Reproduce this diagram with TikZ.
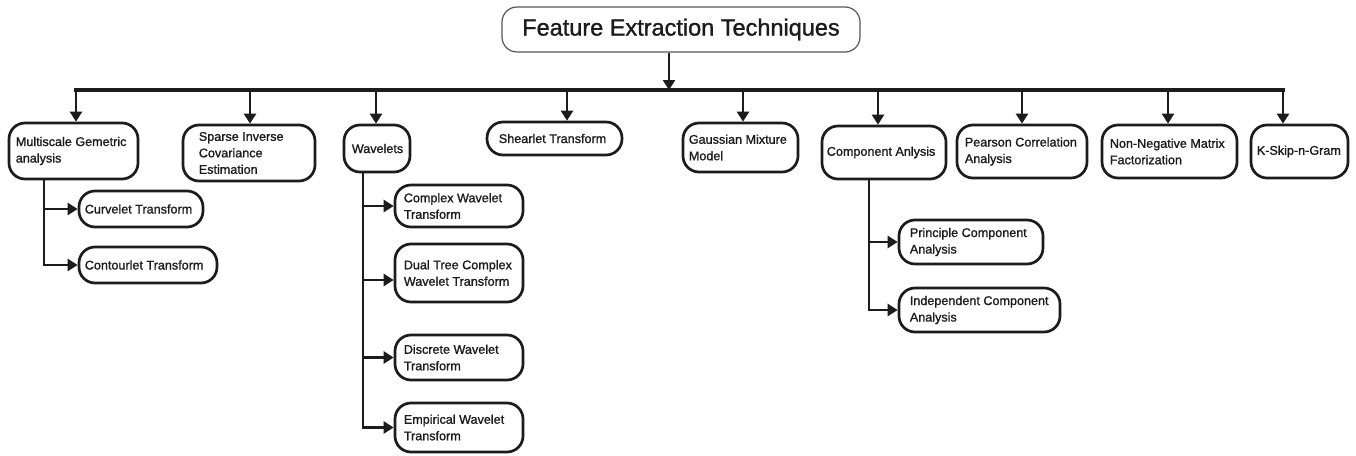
\documentclass[tikz,border=0pt]{standalone}
\usepackage{fontspec}
\setmainfont{Liberation Sans}
\newfontfamily\medfont[FakeBold=1.2]{Liberation Sans}
\usetikzlibrary{arrows.meta}
\definecolor{ink}{HTML}{1C1C1C}
\definecolor{frame}{HTML}{555555}
\newcommand\mkbox[7]{%
  \pgfmathsetmacro\bxw{#4-#2}\pgfmathsetmacro\bxh{#5-#3}%
  \pgfmathsetmacro\bxcx{(#2+#4)/2}\pgfmathsetmacro\bxcy{(#3+#5)/2}%
  \node[bx, minimum width=\bxw pt, minimum height=\bxh pt] (#1) at (\bxcx,\bxcy) {};
  \node[tx] (#1-t) at ([xshift=#6pt]#1.west) {#7};}
\begin{document}
\begin{tikzpicture}[x=1pt,y=-1pt,
  bx/.style={draw=ink, line width=2.7pt, rounded corners=16pt, inner sep=0pt, fill=white},
  tx/.style={font=\medfont\fontsize{12.6}{16.5}\selectfont, text=ink, align=left, inner sep=0pt, anchor=west},
  ttl/.style={draw=frame, line width=1.2pt, rounded corners=15pt, inner sep=0pt, text=ink,
    font=\medfont\fontsize{23.5}{28}\selectfont},
  con/.style={draw=ink, line width=2.8pt},
  arr/.style={con, -{Triangle[length=10pt,width=12pt]}},
]
\useasboundingbox (0,0) rectangle (1356,455);
\fill[white] (0,0) rectangle (1356,455);

\node[ttl, minimum width=358pt, minimum height=45pt] (T) at (681,29.5) {Feature Extraction Techniques};

% level 1
\mkbox{m1}{9}{123}{138}{179}{8}{Multiscale Gemetric\\analysis}
\mkbox{m2}{183}{125}{315}{181}{17}{Sparse Inverse\\Covariance\\Estimation}
\mkbox{m3}{344}{125}{410}{172}{9}{Wavelets}
\mkbox{m4}{487}{122}{622}{155}{13}{Shearlet Transform}
\mkbox{m5}{683}{123}{798}{172}{7}{Gaussian Mixture\\Model}
\mkbox{m6}{822}{126}{946}{179}{6}{Component Anlysis}
\mkbox{m7}{957}{125}{1087}{178}{9}{Pearson Correlation\\Analysis}
\mkbox{m8}{1102}{125}{1237}{178}{9}{Non-Negative Matrix\\Factorization}
\mkbox{m9}{1251}{125}{1348}{178}{7}{K-Skip-n-Gram}

% children
\mkbox{c1}{79}{191}{203}{227}{7}{Curvelet Transform}
\mkbox{c2}{79}{247}{217}{283}{7}{Contourlet Transform}
\mkbox{w1}{395}{185}{523}{227}{10}{Complex Wavelet\\Transform}
\mkbox{w2}{395}{244}{523}{302}{10}{Dual Tree Complex\\Wavelet Transform}
\mkbox{w3}{395}{335}{523}{380}{10}{Discrete Wavelet\\Transform}
\mkbox{w4}{395}{403}{523}{452}{10}{Empirical Wavelet\\Transform}
\mkbox{p1}{899}{220}{1043}{264}{12}{Principle Component\\Analysis}
\mkbox{p2}{899}{288}{1060}{332}{12}{Independent Component\\Analysis}

% bus
\coordinate (t0) at (669,90);
\coordinate (d1) at (76,90);
\coordinate (d2) at (250,90);
\coordinate (d3) at (376,90);
\coordinate (d4) at (567,90);
\coordinate (d5) at (743,90);
\coordinate (d6) at (878,90);
\coordinate (d7) at (1022,90);
\coordinate (d8) at (1168,90);
\coordinate (d9) at (1283,90);

\draw[arr] (T.south -| t0) -- (t0);
\draw[con, line width=3.2pt, line cap=rect] (d1) -- (d9);
\foreach \i in {1,...,9}{\draw[arr] (d\i) -- (d\i |- m\i.north);}

% sub branches
\coordinate (mv) at (44,0);
\coordinate (wv) at (363,0);
\coordinate (cv) at (869,0);
\draw[arr] (m1.south -| mv) |- (c1.west);
\draw[arr] (m1.south -| mv) |- (c2.west);
\coordinate (w2a) at ([yshift=-7pt]w2.west);
\draw[arr] (m3.south -| wv) |- (w1.west);
\draw[arr] (m3.south -| wv) |- (w2a);
\draw[arr] (m3.south -| wv) |- (w3.west);
\draw[arr] (m3.south -| wv) |- (w4.west);
\draw[arr] (m6.south -| cv) |- (p1.west);
\draw[arr] (m6.south -| cv) |- (p2.west);
\end{tikzpicture}
\end{document}
